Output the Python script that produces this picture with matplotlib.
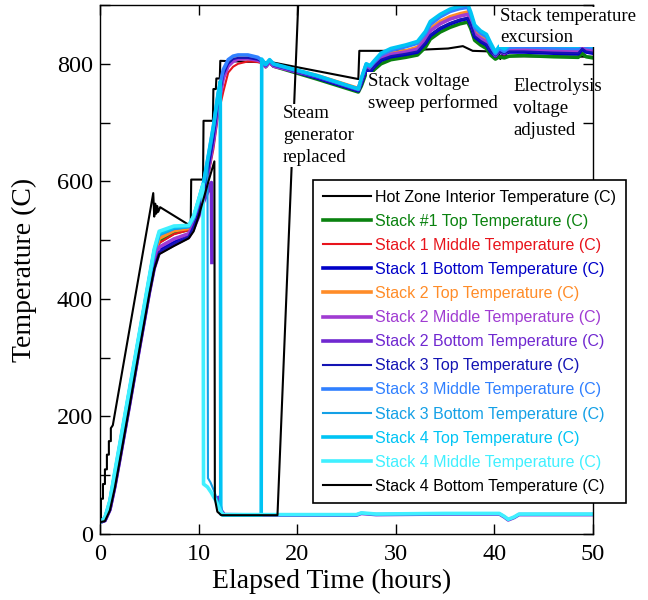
import numpy as np
import matplotlib
matplotlib.use('Agg')
import matplotlib.pyplot as plt
from matplotlib.ticker import MultipleLocator

SERIF = 'Liberation Serif'
SANS = 'Liberation Sans'

# shared time grid for the stacks that survive the whole run (hours)
t_grid = [0, 0.5, 1.0, 1.5, 2.0, 3.0, 4.0, 5.0, 5.5, 6.0, 7.5, 9.0, 9.5, 10.0, 10.5,
          11.0, 11.5, 12.0, 12.5, 13.0, 13.5, 14.0, 15.0, 16.0, 16.4, 16.8, 17.2, 17.6,
          22.0, 26.2, 26.5, 27.0, 27.4, 27.8, 28.5, 29.5, 31.0, 32.2, 33.0, 33.5, 34.5,
          35.5, 36.5, 37.3, 37.6, 38.0, 38.6, 39.2, 39.6, 40.1, 40.5, 41.0, 41.5, 43.0,
          46.0, 48.5, 48.9, 49.3, 50.0]

stack1_top = [20, 25, 48, 92, 139, 233, 329, 423, 468, 497, 512, 518,
              532, 556, 582, 625, 675, 738, 784, 802, 808, 810, 810, 806,
              803, 795, 803, 796, 774, 752, 762, 785, 782, 790,
              800, 807, 811, 815, 828, 842, 854, 862, 868, 871,
              860, 840, 832, 826, 815, 808, 812, 810, 813, 814,
              812, 811, 818, 812, 810]
stack1_mid = [20, 25, 46, 88, 134, 228, 324, 418, 465, 495, 510, 517,
              530, 550, 574, 612, 655, 715, 752, 785, 795, 800, 804, 803,
              801, 794, 801, 795, 777, 755, 768, 793, 788, 797,
              808, 815, 819, 824, 840, 856, 868, 876, 882, 885,
              872, 852, 843, 837, 825, 812, 820, 815, 822, 823,
              821, 820, 829, 823, 821]
stack1_bot = [20, 23, 42, 82, 128, 222, 318, 412, 455, 482, 496, 507,
              525, 548, 578, 622, 672, 735, 782, 800, 808, 810, 810, 807,
              804, 796, 804, 797, 776, 754, 766, 790, 786, 795,
              806, 812, 816, 820, 835, 848, 860, 868, 874, 877,
              866, 846, 838, 832, 821, 813, 820, 817, 820, 820,
              818, 817, 825, 820, 818]
stack2_top = [20, 26, 50, 96, 143, 238, 334, 428, 474, 503, 516, 520,
              535, 560, 588, 633, 682, 742, 786, 804, 810, 812, 812, 808,
              805, 797, 805, 798, 780, 758, 772, 798, 792, 800,
              812, 818, 822, 828, 845, 860, 872, 880, 885, 888,
              875, 855, 846, 840, 828, 816, 824, 819, 825, 826,
              824, 823, 832, 826, 824]
stack2_mid = [20, 24, 44, 85, 131, 226, 322, 416, 460, 488, 502, 511,
              527, 550, 578, 620, 668, 728, 775, 796, 804, 808, 809, 806,
              803, 795, 803, 796, 778, 756, 770, 795, 790, 798,
              810, 816, 820, 825, 841, 856, 868, 876, 881, 884,
              871, 851, 843, 837, 825, 814, 822, 818, 823, 824,
              822, 821, 830, 824, 822]
stack3_top = [20, 23, 41, 80, 126, 220, 316, 410, 453, 480, 494, 506,
              524, 547, 577, 621, 671, 734, 781, 800, 808, 810, 810, 807,
              804, 796, 804, 797, 777, 755, 767, 791, 787, 796,
              807, 813, 817, 821, 836, 849, 861, 869, 875, 878,
              867, 847, 839, 833, 822, 814, 821, 818, 821, 821,
              819, 818, 826, 821, 819]
stack3_mid = [20, 27, 54, 101, 148, 243, 338, 433, 480, 510, 520, 523,
              538, 566, 596, 643, 692, 750, 790, 807, 813, 815, 815, 811,
              806, 798, 806, 799, 779, 757, 774, 799, 795, 803,
              815, 823, 829, 835, 851, 867, 880, 889, 894, 896,
              884, 862, 852, 846, 832, 817, 826, 821, 828, 829,
              827, 826, 836, 829, 827]

# series with their own time stamps (dropouts / failed thermocouples)
hz_t = [0, 0.1, 0.1, 0.3, 0.3, 0.5, 0.5, 0.7, 0.7, 0.9, 0.9, 1.1, 1.1, 1.3,
        5.4, 5.5, 5.6, 5.7, 5.8, 5.9, 6.1, 9.1, 9.2, 9.25, 10.45, 10.5, 11.45, 11.5,
        11.75, 11.8, 12.15, 12.2, 17.6, 26.2, 26.3, 30.0, 35.3, 36.8, 37.8, 39.6,
        40.5, 40.6, 40.7, 50.0]
hot_zone = [22, 22, 60, 60, 85, 85, 110, 110, 135, 135, 158, 158, 180, 185,
            580, 540, 562, 545, 558, 548, 556, 525, 525, 603, 603, 703, 703, 757,
            757, 775, 775, 805, 802, 774, 822, 822, 826, 830, 822, 821,
            815, 808, 813, 812]

s4t_t = [0, 0.5, 1.0, 1.5, 2.0, 3.0, 4.0, 5.0, 5.5, 6.0, 7.5, 9.0, 9.5, 10.0, 10.5,
         11.0, 11.5, 12.0, 12.2, 12.25, 12.5, 16.35, 16.4, 16.8, 17.2, 17.6, 22.0,
         26.2, 26.5, 27.0, 27.4, 27.8, 28.5, 29.5, 31.0, 32.2, 33.0, 33.5, 34.5, 35.5,
         36.5, 37.3, 37.6, 38.0, 38.6, 39.2, 39.6, 40.1, 40.5, 41.0, 41.5, 43.0, 46.0,
         48.5, 48.9, 49.3, 50.0]
stack4_top = [20, 27, 55, 103, 150, 245, 340, 435, 482, 512, 522, 524, 540, 568, 598,
              645, 694, 752, 770, 34, 32, 32, 808, 799, 807, 800, 780,
              757, 775, 800, 797, 805, 818, 826, 832, 838, 855, 872, 884, 893,
              898, 901, 888, 866, 856, 850, 836, 820, 830, 825, 832, 833, 831,
              830, 840, 832, 830]

s4m_t = [0, 0.5, 1.0, 1.5, 2.0, 3.0, 4.0, 5.0, 5.5, 6.0, 7.5, 9.0, 9.5, 10.0, 10.45,
         10.5, 10.9, 11.3, 11.8, 12.2, 12.5, 18.0, 26.0, 26.5, 28.0, 35.0, 40.5, 41.0,
         41.4, 42.0, 42.5, 50.0]
stack4_mid = [20, 28, 57, 106, 153, 248, 343, 438, 485, 515, 524, 525, 541, 569, 595,
              85, 80, 70, 55, 40, 33, 33, 33, 36, 34, 35, 35, 30, 25, 29, 34, 34]

s3b_t = [0, 0.5, 1.0, 1.5, 2.0, 3.0, 4.0, 5.0, 5.5, 6.0, 7.5, 9.0, 9.5, 10.0, 10.5,
         10.9, 10.95, 11.2, 11.6, 12.0, 12.4, 12.6, 18.0, 26.0, 26.5, 28.0, 35.0, 40.5,
         41.0, 41.4, 42.0, 42.5, 50.0]
stack3_bot = [20, 26, 52, 99, 146, 241, 336, 431, 478, 508, 519, 522, 537, 564, 594,
              632, 95, 88, 72, 52, 36, 33, 32, 32, 35, 33, 34, 34, 29, 24, 28, 33, 33]

s2b_t = [0, 0.5, 1.0, 1.5, 2.0, 3.0, 4.0, 5.0, 5.5, 6.0, 7.5, 9.0, 9.5, 10.0, 10.5,
         11.0, 11.3, 11.35, np.nan, 12.0, 12.3, 12.6, 18.0, 26.0, 26.5, 28.0, 35.0,
         40.5, 41.0, 41.4, 42.0, 42.5, 50.0]
stack2_bot = [20, 23, 41, 80, 126, 220, 316, 410, 452, 478, 492, 505, 520, 540, 565,
              585, 598, 462, np.nan, 62, 40, 33, 32, 32, 35, 33, 34, 34, 29, 24, 28, 33, 33]

s4b_t = [0, 0.5, 1.0, 1.5, 2.0, 3.0, 4.0, 5.0, 5.5, 6.0, 7.5, 9.0, 9.5, 10.0, 10.5,
         11.0, 11.6, 11.65, 11.9, 12.3, 18.0, 20.1, 20.4]
stack4_bot = [20, 22, 40, 78, 124, 218, 314, 408, 450, 476, 490, 503, 515, 540, 570,
              600, 634, 60, 38, 32, 32, 900, 1020]

labels = ['Hot Zone Interior Temperature (C)', 'Stack #1 Top Temperature (C)',
          'Stack 1 Middle Temperature (C)', 'Stack 1 Bottom Temperature (C)',
          'Stack 2 Top Temperature (C)', 'Stack 2 Middle Temperature (C)',
          'Stack 2 Bottom Temperature (C)', 'Stack 3 Top Temperature (C)',
          'Stack 3 Middle Temperature (C)', 'Stack 3 Bottom Temperature (C)',
          'Stack 4 Top Temperature (C)', 'Stack 4 Middle Temperature (C)',
          'Stack 4 Bottom Temperature (C)']

series = [(hz_t, hot_zone), (t_grid, stack1_top), (t_grid, stack1_mid), (t_grid, stack1_bot),
          (t_grid, stack2_top), (t_grid, stack2_mid), (s2b_t, stack2_bot),
          (t_grid, stack3_top), (t_grid, stack3_mid), (s3b_t, stack3_bot),
          (s4t_t, stack4_top), (s4m_t, stack4_mid), (s4b_t, stack4_bot)]

colors = ['black', '#0a820f', '#e8141c', '#0000c8', '#ff8c28', '#a03cd2', '#7028d0',
          '#1414b4', '#3080ff', '#14a0e6', '#00c4f4', '#40f0ff', 'black']
widths = [1.5, 2.6, 1.5, 2.6, 2.6, 2.6, 2.6, 1.5, 2.6, 1.5, 2.6, 2.6, 1.5]

fig = plt.figure(figsize=(6.48, 6.0), dpi=100)
ax = fig.add_axes([100 / 648, 1 - 534 / 600, 493 / 648, 529 / 600])

for (t, v), c, w, lab in zip(series, colors, widths, labels):
    ax.plot(t, v, color=c, lw=w, label=lab)

ax.set_xlim(0, 50)
ax.set_ylim(0, 900)
ax.xaxis.set_major_locator(MultipleLocator(10))
ax.yaxis.set_major_locator(MultipleLocator(200))
ax.yaxis.set_minor_locator(MultipleLocator(100))
ax.tick_params(which='both', direction='in', top=True, right=True, length=7, width=1)
ax.tick_params(axis='x', which='minor', bottom=False, top=False)
for lab in ax.get_xticklabels() + ax.get_yticklabels():
    lab.set_fontfamily(SERIF)
    lab.set_fontsize(17.5)
ax.tick_params(axis='x', pad=7)
ax.tick_params(axis='y', pad=5)
for sp in ax.spines.values():
    sp.set_linewidth(1.0)

ax.set_xlabel('Elapsed Time (hours)', fontfamily=SERIF, fontsize=20, labelpad=1)
ax.set_ylabel('Temperature (C)', fontfamily=SERIF, fontsize=20, labelpad=14)
ax.xaxis.set_label_coords(0.47, -0.065)

leg = ax.legend(loc='upper left', bbox_to_anchor=(313 / 648, 1 - 180 / 600),
                bbox_transform=fig.transFigure, prop={'family': SANS, 'size': 11.5},
                fancybox=False, framealpha=1, edgecolor='black', handlelength=3.0,
                handletextpad=0.3, labelspacing=0.57, borderpad=0.6, borderaxespad=0)
leg.get_frame().set_linewidth(1.2)
for txt, c in zip(leg.get_texts(), colors):
    txt.set_color(c)

box = dict(facecolor='white', edgecolor='none', pad=1)
fig.text(283 / 648, 1 - 105 / 600, 'Steam\ngenerator\nreplaced', fontfamily=SERIF,
         fontsize=13.5, va='top', ha='left', linespacing=1.37, bbox=box)
fig.text(368 / 648, 1 - 73 / 600, 'Stack voltage\nsweep performed', fontfamily=SERIF,
         fontsize=13.5, va='top', ha='left', linespacing=1.3, bbox=box)
fig.text(500 / 648, 1 - 8 / 600, 'Stack temperature\nexcursion', fontfamily=SERIF,
         fontsize=13.5, va='top', ha='left', linespacing=1.3, bbox=box)
fig.text(513 / 648, 1 - 78 / 600, 'Electrolysis\nvoltage\nadjusted', fontfamily=SERIF,
         fontsize=13.5, va='top', ha='left', linespacing=1.37)

fig.savefig('out.png', dpi=100)
